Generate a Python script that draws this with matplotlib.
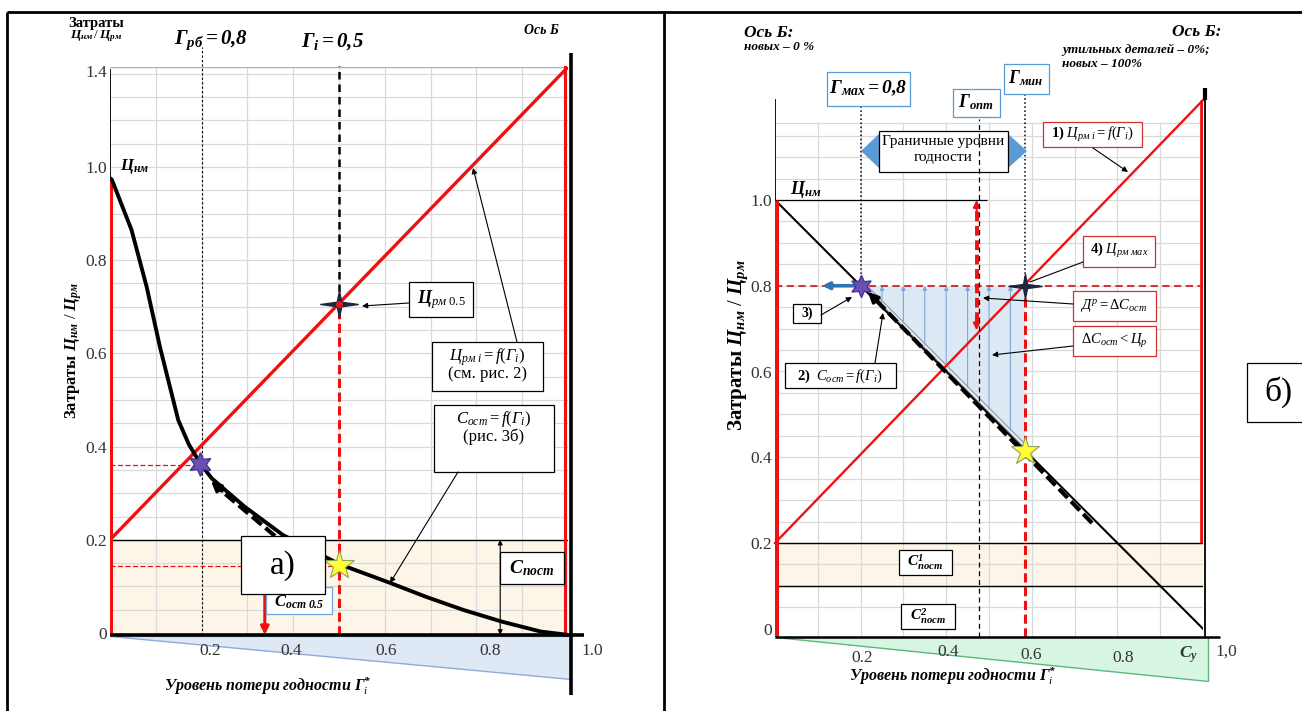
import numpy as np
import matplotlib
matplotlib.use('Agg')
import matplotlib.pyplot as plt
from matplotlib.patches import Polygon, Rectangle
from matplotlib.path import Path

plt.rcParams['font.family'] = ['Liberation Serif', 'DejaVu Serif']
plt.rcParams['mathtext.fontset'] = 'custom'
plt.rcParams['mathtext.rm'] = 'Liberation Serif'
plt.rcParams['mathtext.it'] = 'Liberation Serif:italic'
plt.rcParams['mathtext.bf'] = 'Liberation Serif:bold'
plt.rcParams['mathtext.bfit'] = 'Liberation Serif:italic:bold'

W, H = 1302, 711

# ---------------- data: panel а)
a_x_tick_labels = ['0.2', '0.4', '0.6', '0.8', '1.0']
a_y_tick_values = [0.0, 0.2, 0.4, 0.6, 0.8, 1.0, 1.207]
a_y_tick_labels = ['0', '0.2', '0.4', '0.6', '0.8', '1.0', '1.4']
a_gamma = [0.0, 0.004, 0.047, 0.080, 0.109, 0.149, 0.172, 0.197, 0.222, 0.294, 0.378,
           0.500, 0.613, 0.689, 0.773, 0.857, 0.941, 1.0]
a_c_ost = [0.976, 0.973, 0.865, 0.743, 0.614, 0.457, 0.405, 0.364, 0.332, 0.271, 0.210,
           0.148, 0.107, 0.078, 0.049, 0.024, 0.003, -0.004]
a_price_gamma = [0.0, 1.0]
a_price = [0.2, 1.2146]
a_top = 1.2146
a_c_post = 0.2
a_gamma_rb = 0.2
a_gamma_i = 0.5
a_star_rb = (0.197, 0.362)
a_star_i = (0.5, 0.146)
a_price_05 = 0.707
a_level_rb = 0.36
a_level_i = 0.144
a_red_arrow_x = 0.338
a_dim_x = 0.852

# ---------------- data: panel б)
b_x_tick_labels = ['0.2', '0.4', '0.6', '0.8', r'$\mathbfit{C}_{\mathbfit{y}}$', '1,0']
b_y_tick_values = [0.0, 0.2, 0.4, 0.6, 0.8, 1.0]
b_y_tick_labels = ['0', '0.2', '0.4', '0.6', '0.8', '1.0']
b_nm_gamma = [0.0, 1.0]
b_nm = [1.0, 0.0]
b_price_gamma = [0.0, 1.0]
b_price = [0.2, 1.233]
b_gamma_max = 0.2
b_gamma_opt = 0.476
b_gamma_min = 0.585
b_level = 0.8
b_c_post = [0.1, 0.2]
b_arrow_gammas = [0.25, 0.30, 0.35, 0.40, 0.45, 0.50, 0.55]
b_opt_arrow = [0.696, 1.0]
b_yellow = (0.585, 0.415)

fig = plt.figure(figsize=(W / 100, H / 100), dpi=100)

ov = fig.add_axes([0, 0, 1, 1], zorder=10)
ov.set_xlim(0, W)
ov.set_ylim(H, 0)
ov.axis('off')
ov.patch.set_alpha(0)
PX = ov.transData

# outer frame
for (x0, y0, x1, y1) in [(7, 12, W, 12), (7, 12, 7, H), (664, 12, 664, H)]:
    ov.plot([x0, x1], [y0, y1], color='black', lw=2.0, solid_capstyle='butt')


def rect(ax, x0, y0, x1, y1, ec='black', lw=0.9, fc='white', z=6):
    ax.add_patch(Rectangle((x0, y0), x1 - x0, y1 - y0, transform=PX, fc=fc, ec=ec,
                           lw=lw, zorder=z, clip_on=False))


def txt(ax, x, y, s, size=11, ha='center', va='center', z=7, **kw):
    ax.text(x, y, s, transform=PX, fontsize=size, ha=ha, va=va, zorder=z,
            clip_on=False, **kw)


def arrow(ax, x0, y0, x1, y1, color='black', lw=0.8, style='-|>', ms=8, z=7):
    ax.annotate('', xy=(x1, y1), xytext=(x0, y0), xycoords=PX, textcoords=PX,
                arrowprops=dict(arrowstyle=style, color=color, lw=lw, shrinkA=0,
                                shrinkB=0, mutation_scale=ms),
                zorder=z, annotation_clip=False)


sparkle = Path([(-1.0, 0), (-0.12, 0.12), (0, 0.72), (0.12, 0.12), (1.0, 0),
                (0.12, -0.12), (0, -0.72), (-0.12, -0.12), (-1.0, 0)],
               [Path.MOVETO] + [Path.LINETO] * 7 + [Path.CLOSEPOLY])

GRID = '#d9d9d9'
BEIGE = '#fdf6e8'
RED = '#ee1111'
TICKC = '#333333'

# =============================== panel а)
yb_a, yt_a = -0.008, a_top
pxa = lambda v: 633 - v * 466
axA = fig.add_axes([110 / W, (H - pxa(yb_a)) / H, 458 / W, (pxa(yb_a) - pxa(yt_a)) / H])
axA.set_xlim(0, 1)
axA.set_ylim(yb_a, yt_a)
axA.patch.set_visible(False)
for s in axA.spines.values():
    s.set_visible(False)
axA.set_xticks([])
axA.set_yticks(a_y_tick_values, a_y_tick_labels, fontsize=12.5, color=TICKC)
axA.tick_params(axis='y', length=0, pad=2)

axA.add_patch(Rectangle((0, -0.004), 1, a_c_post + 0.004, fc=BEIGE, ec='none', zorder=0.5))
axA.vlines(np.arange(0.1, 0.95, 0.1), -0.004, a_top, color=GRID, lw=0.9, zorder=1)
axA.hlines(np.arange(0.05, 1.201, 0.05), 0, 1, color=GRID, lw=0.9, zorder=1)
axA.hlines(a_top, 0, 1, color='#8db3e2', lw=1.0, zorder=1.2)
axA.hlines(a_c_post, 0, 1, color='black', lw=1.0, zorder=2)

# triangle under axis
axA.add_patch(Polygon([(110, 636), (571, 636), (571, 679)], closed=True, transform=PX,
                      fc='#dfe8f5', ec='#8eaadb', lw=1.0, zorder=1, clip_on=False))

axA.plot(a_price_gamma, a_price, color=RED, lw=2.4, zorder=3, solid_capstyle='butt')
axA.plot(a_gamma, a_c_ost, color='black', lw=2.8, zorder=4, solid_joinstyle='round')
axA.plot([0, 0], [-0.004, a_c_ost[0]], color=RED, lw=3.6, zorder=3.5, solid_capstyle='butt')
axA.plot([0, 0], [a_c_ost[0], 1.208], color='black', lw=1.3, zorder=3)
axA.plot([0.993, 0.993], [0, a_top], color=RED, lw=2.2, zorder=3, clip_on=False)
axA.plot([1.007, 1.007], [-0.133, 1.245], color='black', lw=2.6, zorder=3.6, clip_on=False,
         solid_capstyle='butt')
axA.plot([0, 1.035], [-0.004, -0.004], color='black', lw=2.6, zorder=3.7, clip_on=False,
         solid_capstyle='butt')

axA.plot([a_gamma_rb, a_gamma_rb], [-0.004, 1.2575], color='black', lw=0.8,
         dashes=(2, 2), zorder=2.5, clip_on=False)
axA.plot([a_gamma_i, a_gamma_i], [a_price_05, 1.217], color='black', lw=1.8,
         dashes=(3, 2), zorder=2.5, clip_on=False)
axA.plot([a_gamma_i, a_gamma_i], [-0.004, a_price_05], color=RED, lw=2.2,
         dashes=(3, 1.5), zorder=2.6)
axA.plot([0, a_star_rb[0]], [a_level_rb, a_level_rb], color=RED, lw=0.9, dashes=(4, 2), zorder=2.6)
axA.plot([0, a_gamma_i], [a_level_i, a_level_i], color=RED, lw=0.9, dashes=(4, 2), zorder=2.6)

# dashed direction arrow along curve
axA.plot([275, 217], [536, 487], transform=PX, color='black', lw=3.0, dashes=(3, 1.2), zorder=4.5)
arrow(axA, 222, 491, 211, 481, lw=2.5, ms=14, z=4.6)

axA.plot(*a_star_rb, marker=(6, 1, 0), ms=17, mfc='#6a4fb5', mec='#4a3590', zorder=6)
axA.plot(*a_star_i, marker='*', ms=22, mfc='#ffff33', mec='#8fa060', mew=0.8, zorder=6)
axA.plot(a_gamma_i, a_price_05, marker=sparkle, ms=27, color='#1d2540', zorder=6)
axA.plot(a_gamma_i, a_price_05, marker='o', ms=4, color=RED, zorder=6.1)

axA.annotate('', xy=(a_red_arrow_x, -0.004), xytext=(a_red_arrow_x, 0.084),
             arrowprops=dict(arrowstyle='-|>', color=RED, lw=2.2, shrinkA=0, shrinkB=0,
                             mutation_scale=12), zorder=5)
axA.annotate('', xy=(a_dim_x, -0.004), xytext=(a_dim_x, a_c_post),
             arrowprops=dict(arrowstyle='<|-|>', color='black', lw=0.8, shrinkA=0, shrinkB=0,
                             mutation_scale=7), zorder=5)

for lab, xp in zip(a_x_tick_labels, [210, 291, 386, 490, 592]):
    txt(axA, xp, 651, lab, size=12.5, color=TICKC)

# labels panel а)
txt(axA, 96, 24, 'Затраты', size=10.5, weight='bold')
txt(axA, 96, 36, r'$\mathbfit{Ц}_{\mathbfit{нм}}\,/\,\mathbfit{Ц}_{\mathbfit{рм}}$', size=9.5)
txt(axA, 211, 40, r'$\mathbfit{Г}_{\mathbfit{рб}}\mathbfit{=0{,}8}$', size=15)
txt(axA, 333, 42, r'$\mathbfit{Г}_{\mathbfit{i}}\mathbfit{=0{,}5}$', size=15)
txt(axA, 541, 31, 'Ось Б', size=10, weight='bold', style='italic')
txt(axA, 120, 167, r'$\mathbfit{Ц}_{\mathbfit{нм}}$', size=12, ha='left')
txt(axA, 74, 350, r'Затраты $\mathbfit{Ц}_{\mathbfit{нм}}\ /\ \mathbfit{Ц}_{\mathbfit{рм}}$',
    size=12, weight='bold', rotation=90)
txt(axA, 268, 686, r'Уровень потери годности $\mathbfit{Г}^{\mathbfit{*}}_{\mathit{i}}$',
    size=11.5, weight='bold', style='italic')

rect(axA, 409, 282, 473, 317)
txt(axA, 441, 300, r'$\mathbfit{Ц}_{\mathit{рм\ 0.5}}$', size=13)
arrow(axA, 409, 303, 362, 306)

rect(axA, 432, 342, 543, 391)
txt(axA, 487, 357, r'$\mathit{Ц}_{\mathit{рм\ i}}\mathit{=f(Г}_{\mathit{i}}\mathit{)}$', size=12)
txt(axA, 487, 374, '(см. рис. 2)', size=12)
arrow(axA, 517, 342, 473, 168)

rect(axA, 434, 405, 554, 472)
txt(axA, 494, 419, r'$\mathit{C}_{\mathit{ост}}\mathit{=f(Г}_{\mathit{i}}\mathit{)}$', size=12)
txt(axA, 494, 437, '(рис. 3б)', size=12)
arrow(axA, 458, 472, 390, 583)

rect(axA, 500, 552, 564, 584)
txt(axA, 532, 568, r'$\mathbfit{C}_{\mathbfit{пост}}$', size=14)

rect(axA, 266, 587, 332, 614, ec='#6fa8dc')
txt(axA, 299, 602, r'$\mathbfit{C}_{\mathbfit{ост\ 0.5}}$', size=12)
rect(axA, 241, 536, 325, 594, z=6.5)
txt(axA, 283, 566, 'а)', size=24, z=7)

# =============================== panel б)
yb_b, yt_b = -0.02, 1.235
pxb = lambda v: 628.75 - v * 428.75
axB = fig.add_axes([775 / W, (H - pxb(yb_b)) / H, 428 / W, (pxb(yb_b) - pxb(yt_b)) / H])
axB.set_xlim(0, 1)
axB.set_ylim(yb_b, yt_b)
axB.patch.set_visible(False)
for s in axB.spines.values():
    s.set_visible(False)
axB.set_xticks([])
axB.set_yticks(b_y_tick_values, b_y_tick_labels, fontsize=12.5, color=TICKC)
axB.tick_params(axis='y', length=0, pad=2)

axB.add_patch(Rectangle((0, b_c_post[0]), 1, b_c_post[1] - b_c_post[0], fc=BEIGE,
                        ec='none', zorder=0.5))
axB.vlines(np.arange(0.1, 0.95, 0.1), -0.02, 1.18, color=GRID, lw=0.9, zorder=1)
axB.hlines(np.arange(0.05, 1.16, 0.05), 0, 1, color=GRID, lw=0.9, zorder=1)
axB.hlines(1.18, 0, 1, color=GRID, lw=0.9, zorder=1)
axB.hlines(b_c_post, 0, 1, color='black', lw=1.0, zorder=2)

axB.add_patch(Polygon([(775, 637), (1208, 637), (1208, 681)], closed=True, transform=PX,
                      fc='#d6f5e3', ec='#5cb87a', lw=1.0, zorder=1, clip_on=False))

# shaded triangle (Д^р)
axB.add_patch(Polygon([(b_gamma_max, b_level), (b_gamma_min, b_level),
                       (b_gamma_min, 1 - b_gamma_min)], closed=True, fc='#dde8f5',
                      ec='none', zorder=1.5))
axB.plot([b_gamma_max, b_gamma_min], [b_level + 0.01, 1 - b_gamma_min + 0.01],
         color='#9aa5b1', lw=3.2, zorder=1.8)
axB.plot([b_gamma_max, b_gamma_min], [b_level + 0.01, 1 - b_gamma_min + 0.01],
         color='white', lw=1.0, zorder=1.9)
for g in b_arrow_gammas:
    axB.annotate('', xy=(g, b_level), xytext=(g, 1 - g + 0.012),
                 arrowprops=dict(arrowstyle='-|>', color='#7fa6d6', lw=0.8, shrinkA=0,
                                 shrinkB=0, mutation_scale=6), zorder=2)

axB.plot(b_nm_gamma, b_nm, color='black', lw=1.5, zorder=3)
axB.plot(b_price_gamma, b_price, color=RED, lw=1.7, zorder=3, clip_on=False)
axB.hlines(1.0, 0, 0.495, color='black', lw=0.9, zorder=2.5)
axB.plot([0.002, 0.002], [-0.02, 1.0], color=RED, lw=3.6, zorder=3.5, solid_capstyle='butt')
axB.plot([0, 0], [1.0, 1.233], color='black', lw=1.3, zorder=3)
axB.plot([0.998, 0.998], [b_c_post[1], 1.233], color=RED, lw=3.4, zorder=3.5,
         solid_capstyle='butt')
axB.plot([1.004, 1.004], [-0.02, 1.233], color='black', lw=1.3, zorder=3.6, clip_on=False)
axB.plot([1.004, 1.004], [1.233, 1.261], color='black', lw=3.0, zorder=3.6, clip_on=False,
         solid_capstyle='butt')
axB.plot([0, 1.04], [-0.02, -0.02], color='black', lw=1.8, zorder=3.7, clip_on=False,
         solid_capstyle='butt')

axB.plot([b_gamma_max, b_gamma_max], [b_level, 1.219], color='black', lw=1.1,
         ls=':', zorder=2.6, clip_on=False)
axB.plot([b_gamma_min, b_gamma_min], [b_level, 1.246], color='black', lw=1.1,
         ls=':', zorder=2.6, clip_on=False)
axB.plot([b_gamma_opt, b_gamma_opt], [-0.02, 1.19], color='black', lw=0.9,
         dashes=(4, 3), zorder=6.6, clip_on=False)
axB.plot([0, 1], [b_level, b_level], color='#d42020', lw=1.3, dashes=(4, 2.5), zorder=2.7)
axB.plot([b_gamma_min, b_gamma_min], [-0.02, b_level], color=RED, lw=2.2,
         dashes=(3, 1.5), zorder=2.7)

# optimal-level red double arrow
axB.plot([0.471, 0.471], [b_opt_arrow[0] + 0.02, b_opt_arrow[1] - 0.02], color=RED, lw=2.8,
         dashes=(2.5, 1.2), zorder=4)
axB.annotate('', xy=(0.471, b_opt_arrow[1]), xytext=(0.471, b_opt_arrow[1] - 0.03),
             arrowprops=dict(arrowstyle='-|>', color=RED, lw=1.5, shrinkA=0, shrinkB=0,
                             mutation_scale=10), zorder=4)
axB.annotate('', xy=(0.471, b_opt_arrow[0]), xytext=(0.471, b_opt_arrow[0] + 0.03),
             arrowprops=dict(arrowstyle='-|>', color=RED, lw=1.5, shrinkA=0, shrinkB=0,
                             mutation_scale=10), zorder=4)

# blue arrow along 0.8
axB.annotate('', xy=(0.11, b_level), xytext=(0.19, b_level),
             arrowprops=dict(arrowstyle='-|>', color='#2e75b6', lw=2.6, shrinkA=0,
                             shrinkB=0, mutation_scale=10), zorder=4)

# thick dashed arrow along C_ост
axB.plot([1092, 876], [523, 300], transform=PX, color='black', lw=3.0, dashes=(3, 1.2), zorder=4.5)
arrow(axB, 880, 304, 868, 292, lw=2.5, ms=14, z=4.6)

axB.plot(b_gamma_max, b_level, marker=(6, 1, 0), ms=16, mfc='#6a4fb5', mec='#4a3590', zorder=6)
axB.plot(*b_yellow, marker='*', ms=21, mfc='#ffff33', mec='#8fa060', mew=0.8, zorder=6)
axB.plot(b_gamma_min, b_level, marker=sparkle, ms=24, color='#1d2540', zorder=6)

for lab, xp, yp in zip(b_x_tick_labels, [862, 948, 1031, 1123, 1189, 1226],
                       [658, 652, 655, 658, 655, 652]):
    txt(axB, xp, yp, lab, size=12.5, color=TICKC)

# labels panel б)
txt(axB, 769, 33, 'Ось Б:', size=12.5, weight='bold', style='italic')
txt(axB, 744, 47, 'новых – 0 %', size=9.5, weight='bold', style='italic', ha='left')
txt(axB, 1221, 32, 'Ось Б:', size=12.5, weight='bold', style='italic', ha='right')
txt(axB, 1062, 50, 'утильных деталей – 0%;', size=9.5, weight='bold', style='italic', ha='left')
txt(axB, 1062, 64, 'новых – 100%', size=9.5, weight='bold', style='italic', ha='left')
txt(axB, 790, 189, r'$\mathbfit{Ц}_{\mathbfit{нм}}$', size=13, ha='left')
txt(axB, 738, 345, r'Затраты $\mathbfit{Ц}_{\mathbfit{нм}}\ /\ \mathbfit{Ц}_{\mathbfit{рм}}$',
    size=15, weight='bold', rotation=90)
txt(axB, 953, 676, r'Уровень потери годности $\mathbfit{Г}^{\mathbfit{*}}_{\mathit{i}}$',
    size=11.5, weight='bold', style='italic')

BLUE_EC = '#5b9bd5'
RED_EC = '#d03030'
rect(axB, 827, 72, 910, 106, ec=BLUE_EC)
txt(axB, 868, 88, r'$\mathbfit{Г}_{\mathbfit{мах}}\mathbfit{=0{,}8}$', size=14)
rect(axB, 953, 89, 1000, 117, ec=BLUE_EC)
txt(axB, 976, 102, r'$\mathbfit{Г}_{\mathbfit{опт}}$', size=13)
rect(axB, 1004, 64, 1049, 94, ec=BLUE_EC)
txt(axB, 1026, 78, r'$\mathbfit{Г}_{\mathbfit{мин}}$', size=13)

axB.add_patch(Polygon([(861, 151), (880, 133), (880, 169)], closed=True, transform=PX,
                      fc=BLUE_EC, ec='none', zorder=6, clip_on=False))
axB.add_patch(Polygon([(1007, 133), (1027, 151), (1007, 169)], closed=True, transform=PX,
                      fc=BLUE_EC, ec='none', zorder=6, clip_on=False))
rect(axB, 879, 131, 1008, 172)
txt(axB, 943, 142, 'Граничные уровни', size=11)
txt(axB, 943, 158, 'годности', size=11)

rect(axB, 1043, 122, 1142, 147, ec=RED_EC)
txt(axB, 1092, 135, r'$\mathbf{1)}\ \mathit{Ц}_{\mathit{рм\ i}}\mathit{=f(Г}_{\mathit{i}}\mathit{)}$',
    size=10.5)
arrow(axB, 1093, 148, 1128, 172)

rect(axB, 1083, 236, 1155, 267, ec=RED_EC)
txt(axB, 1119, 251, r'$\mathbf{4)}\ \mathit{Ц}_{\mathit{рм\ мах}}$', size=10.5)
axB.plot([1083, 1030], [262, 282], transform=PX, color='black', lw=0.8, zorder=6)

rect(axB, 1073, 291, 1156, 321, ec=RED_EC)
txt(axB, 1114, 306, r'$\mathit{Д}^{\mathit{р}}\mathit{=}\Delta\mathit{C}_{\mathit{ост}}$', size=10.5)
arrow(axB, 1073, 304, 983, 298)

rect(axB, 1073, 326, 1156, 356, ec=RED_EC)
txt(axB, 1114, 341, r'$\Delta\mathit{C}_{\mathit{ост}}\mathit{<Ц}_{\mathit{р}}$', size=10.5)
arrow(axB, 1073, 346, 992, 355)

rect(axB, 793, 304, 821, 323)
txt(axB, 807, 313, '3)', size=10, weight='bold')
arrow(axB, 821, 315, 852, 297)

rect(axB, 785, 363, 896, 388)
txt(axB, 840, 376, r'$\mathbf{2)}\ \ \mathit{C}_{\mathit{ост}}\mathit{=f(Г}_{\mathit{i}}\mathit{)}$',
    size=10.5)
arrow(axB, 875, 363, 883, 313)

rect(axB, 899, 550, 952, 575)
txt(axB, 925, 562, r'$\mathbfit{C}^{\mathbfit{1}}_{\mathbfit{пост}}$', size=11)
rect(axB, 901, 604, 955, 629)
txt(axB, 928, 616, r'$\mathbfit{C}^{\mathbfit{2}}_{\mathbfit{пост}}$', size=11)

rect(ov, 1247, 363, 1312, 422)
txt(ov, 1278, 392, 'б)', size=24)

fig.savefig('out.png', dpi=100)
